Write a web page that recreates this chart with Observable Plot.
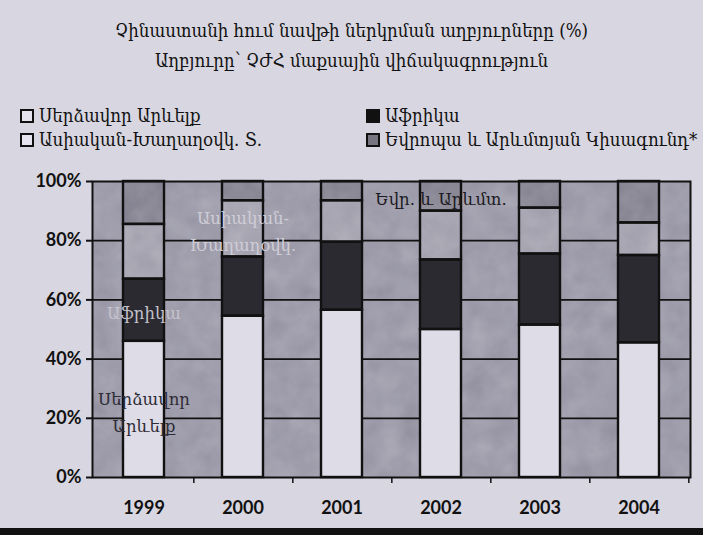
<!DOCTYPE html>
<html>
<head>
<meta charset="utf-8">
<script src="https://cdn.jsdelivr.net/npm/d3@7"></script>
<script src="https://cdn.jsdelivr.net/npm/@observablehq/plot@0.6"></script>
<style>
  html, body { margin: 0; padding: 0; }
  body { width: 703px; height: 535px; background: #d8d6e0; position: relative; overflow: hidden; }
  #title { position: absolute; top: 16px; left: 0; width: 703px; text-align: center;
           font-family: "DejaVu Serif"; font-stretch: condensed; font-size: 18.5px; line-height: 30px; color: #111; }
  .leg { position: absolute; font-family: "DejaVu Serif"; font-stretch: condensed; font-size: 18.5px; line-height: 22px; color: #111;
         display: flex; align-items: center; white-space: nowrap; }
  .sw { width: 10px; height: 10px; border: 2px solid #111; margin-right: 5px; box-sizing: content-box; }
  #chart { position: absolute; top: 150px; left: 0; }
  #band { position: absolute; left: 0; top: 528px; width: 703px; height: 7px; background: #111; }
</style>
</head>
<body>
<div id="title"></div>
<div id="legend"></div>
<div id="chart"></div>
<div id="band"></div>
<script>
const titleLines = ["Չինաստանի հում նավթի ներկրման աղբյուրները (%)", "Աղբյուրը՝ ՉԺՀ մաքսային վիճակագրություն"];
const years = ["1999", "2000", "2001", "2002", "2003", "2004"];
const regions = ["Սերձավոր Արևելք", "Աֆրիկա", "Ասիական-Խաղաղօվկ. Տ.", "Եվրոպա և Արևմտյան Կիսագունդ*"];
const middleEast = [46, 54.5, 56.5, 50, 51.5, 45.5];
const africa = [21, 20, 23, 23.5, 24, 29.5];
const asiaPacific = [18.5, 19, 14, 16.5, 15.5, 11];
const europe = [14.5, 6.5, 6.5, 10, 9, 14];
const yTicks = [0, 20, 40, 60, 80, 100];
// in-chart series labels (Excel data labels) and the year they sit on
const labelTexts = ["Սերձավոր\nԱրևելք", "Աֆրիկա", "Ասիական-\nԽաղաղօվկ.", "Եվր. և Արևմտ."];
const labelYears = ["1999", "1999", "2000", "2002"];

const fills = ["#dedce6", "#2b2a31", "#a9a7b3", "#8c8a97"];
const labelColors = ["#2e2c36", "#c4c2cc", "#cfcdd7", "#1c1b22"];
const plotBg = "#a09eac";

document.getElementById("title").innerHTML = titleLines.join("<br>");

// legend: two columns, two rows
const legend = document.getElementById("legend");
const legPos = [[20, 105], [366, 105], [20, 129], [366, 129]];
regions.forEach((r, i) => {
  const div = document.createElement("div");
  div.className = "leg";
  div.style.left = legPos[i][0] + "px";
  div.style.top = legPos[i][1] + "px";
  const sw = document.createElement("span");
  sw.className = "sw";
  sw.style.background = i === 1 ? "#111" : (i === 3 ? "#77757f" : "#e6e4ee");
  div.appendChild(sw);
  div.appendChild(document.createTextNode(r));
  legend.appendChild(div);
});

const series = [middleEast, africa, asiaPacific, europe];
const data = [];
regions.forEach((r, ri) => years.forEach((y, yi) => data.push({year: y, region: r, value: series[ri][yi], ri})));

const W = 703, H = 378, mL = 92, mR = 13, mT = 31, mB = 51;
const step = (W - mL - mR) / years.length;

const chart = Plot.plot({
  width: W, height: H,
  marginLeft: mL, marginRight: mR, marginTop: mT, marginBottom: mB,
  style: {background: "transparent", fontFamily: "Lato", color: "#111", overflow: "visible"},
  x: {domain: years, paddingInner: 0.585, paddingOuter: 0.2925, label: null},
  y: {domain: [0, 100], label: null},
  color: {domain: regions, range: fills},
  marks: [
    Plot.frame({fill: plotBg, className: "bgframe"}),
    Plot.gridY([20, 40, 60, 80], {stroke: "#111", strokeOpacity: 1, strokeWidth: 1.8}),
    Plot.barY(data, {x: "year", y: "value", z: "region", fill: "region", className: "bars"}),
    Plot.barY(data, {x: "year", y: "value", z: "region", fill: "none", stroke: "#111", strokeWidth: 2.4}),
    Plot.text(data, Plot.stackY({
      x: "year", y: "value", z: "region",
      text: d => (labelYears[d.ri] === d.year ? labelTexts[d.ri] : null),
      fill: d => labelColors[d.ri],
      fontFamily: "DejaVu Serif", fontSize: 16.5, lineHeight: 1.65, fontStretch: "condensed"
    })),
    Plot.frame({stroke: "#111", strokeWidth: 2}),
    Plot.axisY({ticks: yTicks, tickFormat: d => d + "%", tickSize: 6, tickPadding: 5,
                fontSize: 18, fontWeight: "bold", stroke: "#111", strokeWidth: 2}),
    Plot.axisX({tickSize: 0, tickPadding: 24, fontSize: 18, fontWeight: "bold"}),
    Plot.axisX({tickSize: 6, tickFormat: () => "", dx: step / 2, stroke: "#111", strokeWidth: 1.5})
  ]
});

// mottled (scanned) texture on the grey areas
const svg = d3.select(chart);
const defs = svg.insert("defs", ":first-child");
const f = defs.append("filter").attr("id", "mottle").attr("filterUnits", "userSpaceOnUse")
  .attr("x", 0).attr("y", 0).attr("width", W).attr("height", H);
f.append("feTurbulence").attr("type", "fractalNoise").attr("baseFrequency", 0.045).attr("numOctaves", 3).attr("seed", 7).attr("result", "n");
f.append("feColorMatrix").attr("in", "n").attr("type", "matrix")
  .attr("values", "0.33 0.33 0.33 0 0  0.33 0.33 0.33 0 0  0.33 0.33 0.33 0 0  0 0 0 0 1").attr("result", "g");
f.append("feComposite").attr("in", "SourceGraphic").attr("in2", "g").attr("operator", "arithmetic")
  .attr("k1", 0).attr("k2", 1).attr("k3", 0.22).attr("k4", -0.11).attr("result", "m");
f.append("feComposite").attr("in", "m").attr("in2", "SourceGraphic").attr("operator", "in");
svg.selectAll(".bgframe").attr("filter", "url(#mottle)");
svg.selectAll(".bars rect").filter(function() {
  const fl = this.getAttribute("fill");
  return fl === fills[2] || fl === fills[3];
}).attr("filter", "url(#mottle)");

document.getElementById("chart").appendChild(chart);
</script>
</body>
</html>
